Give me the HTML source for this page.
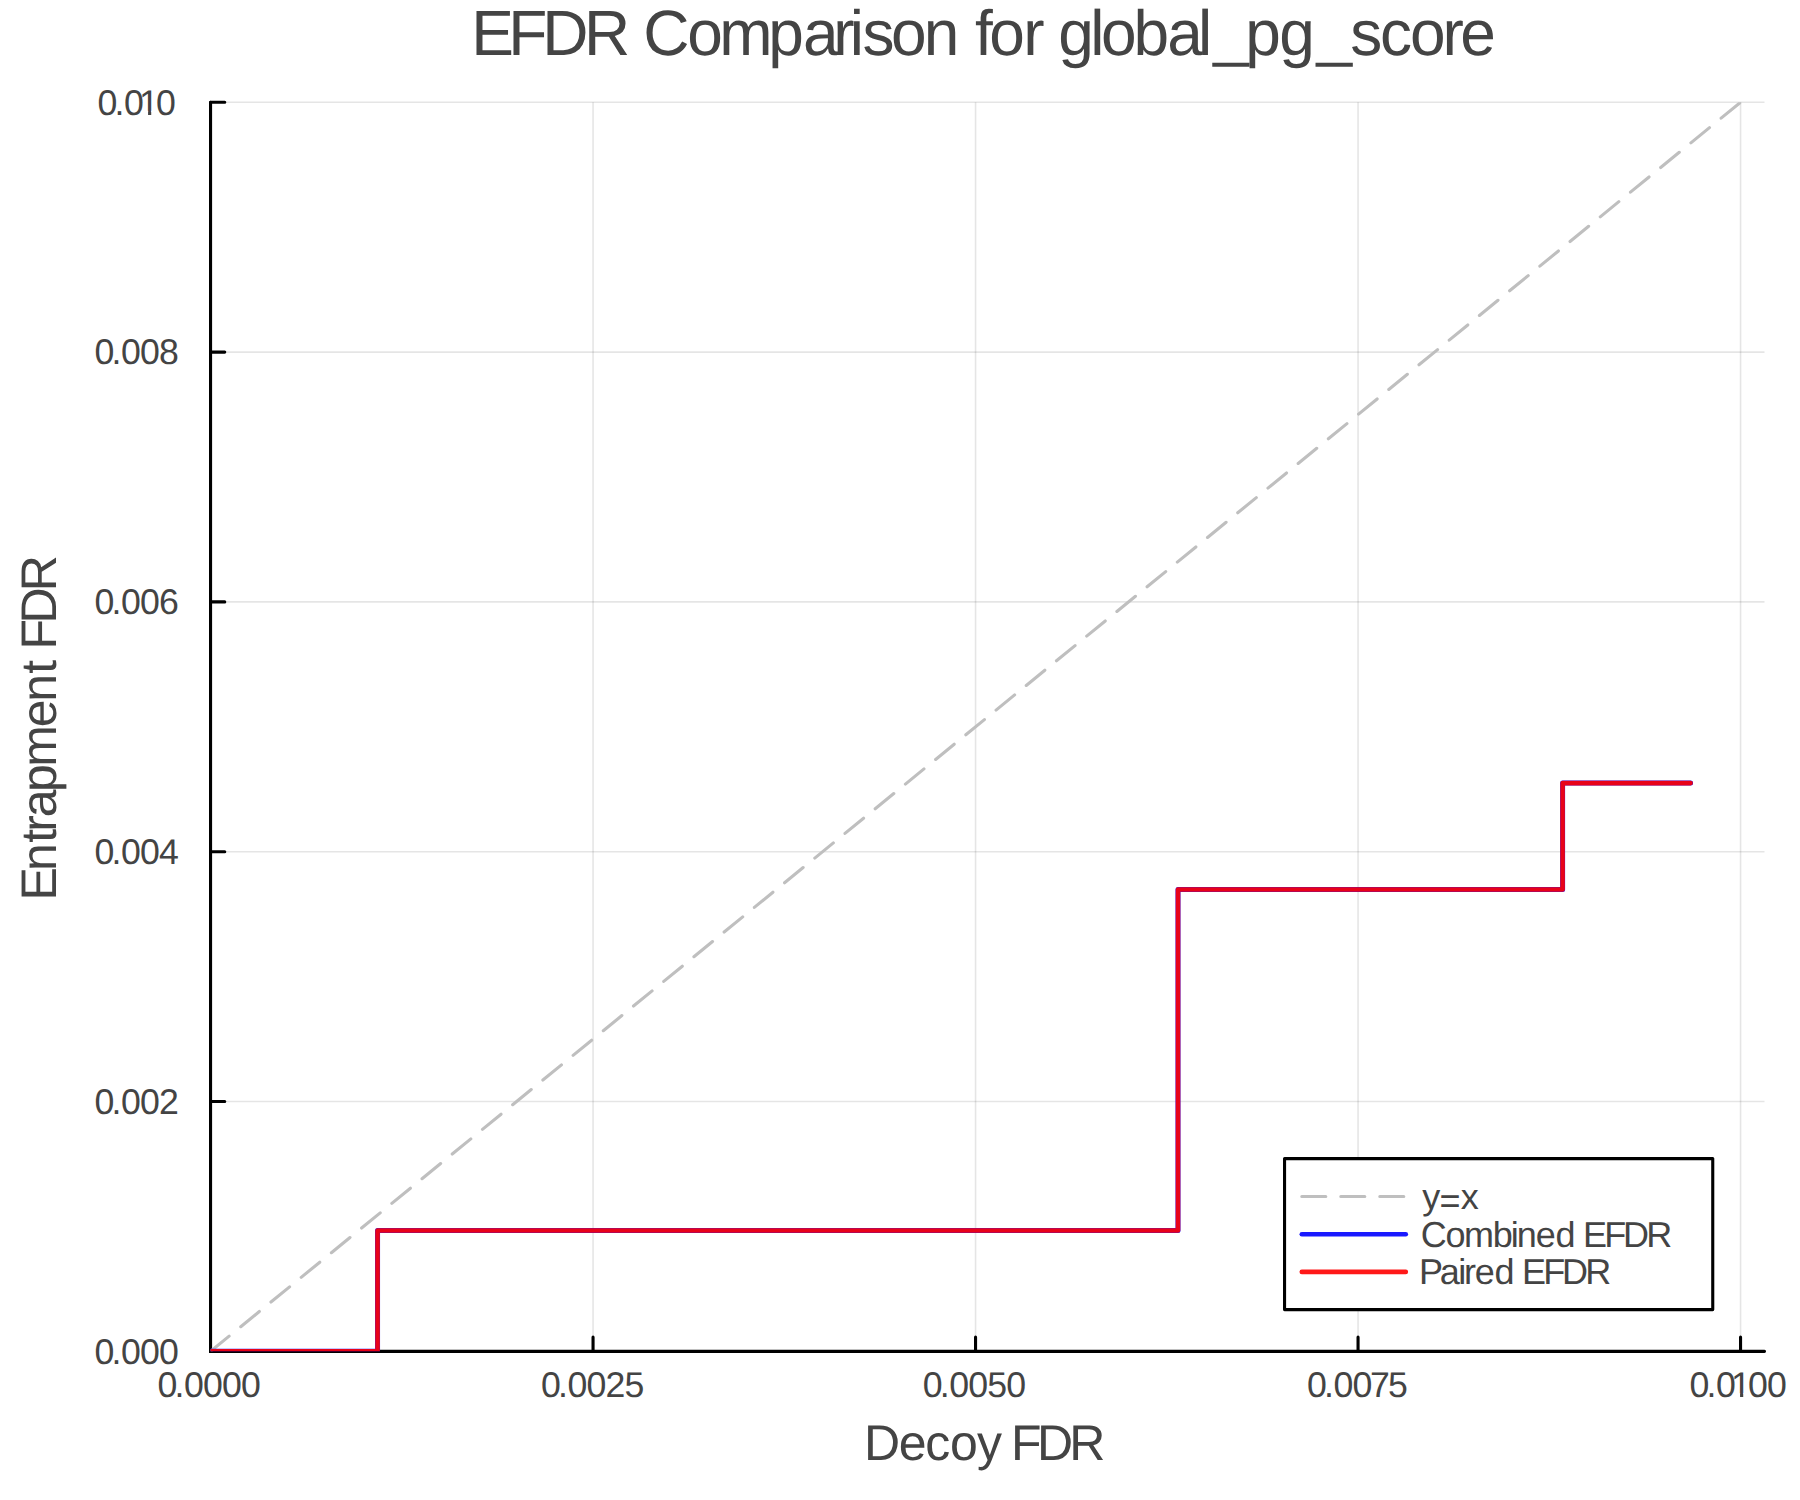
<!DOCTYPE html>
<html><head><meta charset="utf-8"><title>EFDR Comparison for global_pg_score</title>
<style>
html,body{margin:0;padding:0;background:#fff;}
body{width:1800px;height:1500px;overflow:hidden;}
svg{display:block;}
text{font-family:"Liberation Sans",Arial,Helvetica,sans-serif;fill:#444;white-space:pre;text-rendering:geometricPrecision;}
</style></head><body>
<svg width="1800" height="1500" viewBox="0 0 1800 1500">
<rect width="1800" height="1500" fill="#fff"/>
<g stroke="#000" stroke-opacity="0.1" stroke-width="1.6" fill="none">
<path d="M593.05 102.3V1351.35M975.55 102.3V1351.35M1358.05 102.3V1351.35M1740.55 102.3V1351.35"/>
<path d="M210.55 1101.54H1764.5M210.55 851.73H1764.5M210.55 601.92H1764.5M210.55 352.11H1764.5M210.55 102.3H1764.5"/>
</g>
<g stroke="#000" stroke-width="3.1" fill="none" stroke-linecap="round">
<path d="M210.55 102.3V1351.35H1764.5"/>
<path d="M593.05 1351.35V1337.15M975.55 1351.35V1337.15M1358.05 1351.35V1337.15M1740.55 1351.35V1337.15"/>
<path d="M210.55 1101.54H224.75M210.55 851.73H224.75M210.55 601.92H224.75M210.55 352.11H224.75M210.55 102.3H224.75"/>
</g>
<defs><clipPath id="pa"><rect x="210.55" y="102.3" width="1553.95" height="1249.05"/></clipPath></defs>
<g clip-path="url(#pa)" fill="none">
<path d="M210.55 1351.35L1740.55 102.3" stroke="#bfbfbf" stroke-width="3.1" stroke-dasharray="24 15" stroke-linecap="round"/>
<path d="M210.55 1351.35H377.55V1230.5H1178V889.5H1562.6V783.1H1690.6" stroke="#0000ff" stroke-opacity="0.9" stroke-width="5" stroke-linejoin="round" stroke-linecap="round"/>
<path d="M210.55 1351.35H377.55V1230.5H1178V889.5H1562.6V783.1H1690.6" stroke="#ff0000" stroke-opacity="0.9" stroke-width="4.6" stroke-linejoin="round" stroke-linecap="round"/>
</g>
<text x="471.15 508.35 542.35 583.95 628.17 643.15 687.31 719.35 768.27 802.88 833.35 849.72 862.62 890.91 923.75 957.34 975.09 989.31 1023.15 1042.46 1058.31 1090.29 1101.11 1133.47 1167.28 1198.09 1213.37 1245.28 1279.31 1316.57 1350.22 1379.88 1410.11 1442.45 1460.28" y="55 55 55 55 55 55 55 55 55 55 55 55 55 55 55 55 55 55 55 55 55 55 55 55 55 55 54.2 55 55 54.2 55 55 55 55 55" font-size="64">EFDR Comparison for global_pg_score</text>
<text x="157.61 174.61 184.11 203.11 222.11 241.11" y="1396.9" font-size="35.7">0.0000</text>
<text x="541.11 558.11 567.61 586.61 605.61 624.61" y="1396.9" font-size="35.7">0.0025</text>
<text x="922.81 939.81 949.31 968.31 987.31 1006.31" y="1396.9" font-size="35.7">0.0050</text>
<text x="1306.91 1323.91 1333.41 1352.41 1370.01 1387.91" y="1396.9" font-size="35.7">0.0075</text>
<clipPath id="c1"><path clip-rule="evenodd" d="M1669.61 1354.06H1838.51V1414.75H1669.61ZM1732.85 1393.15H1740.08V1398.9H1732.85ZM1743.24 1393.15H1750.28V1398.9H1743.24Z"/></clipPath>
<text x="1689.61 1706.61 1716.11 1731.11 1748.11 1767.11" y="1396.9" font-size="35.7" clip-path="url(#c1)">0.0100</text>
<text x="94.61 111.61 121.11 140.11 159.11" y="1363.65" font-size="35.7">0.000</text>
<text x="94.61 111.61 121.11 140.11 159.11" y="1113.84" font-size="35.7">0.002</text>
<text x="94.61 111.61 121.11 140.11 159.11" y="864.03" font-size="35.7">0.004</text>
<text x="94.61 111.61 121.11 140.11 159.11" y="614.22" font-size="35.7">0.006</text>
<text x="94.41 111.41 120.91 139.91 158.91" y="364.41" font-size="35.7">0.008</text>
<clipPath id="c2"><path clip-rule="evenodd" d="M77.61 71.76H227.51V132.45H77.61ZM140.85 110.85H148.08V116.6H140.85ZM151.24 110.85H158.28V116.6H151.24Z"/></clipPath>
<text x="97.61 114.61 124.11 139.11 156.11" y="114.6" font-size="35.7" clip-path="url(#c2)">0.010</text>
<text x="864 898.68 925.18 950 976.98 999.98 1011.1 1036.9 1069.2" y="1459.9" font-size="50">Decoy FDR</text>
<g transform="translate(56 727.3) rotate(-90)">
<text x="-173.2 -143.62 -115.46 -104.42 -90.02 -64.82 -39.52 0.18 25.48 53.54 65.43 77.9 103.7 136" y="0" font-size="50">Entrapment FDR</text>
</g>
<rect x="1284.55" y="1158.6" width="428.2" height="151" fill="#fff" stroke="#000" stroke-width="3.1" stroke-linejoin="round"/>
<path d="M1301.8 1196.5H1405.8" stroke="#bfbfbf" stroke-width="3.1" stroke-dasharray="24 15" stroke-linecap="round" fill="none"/>
<path d="M1301.8 1234.2H1405.8" stroke="#0000ff" stroke-opacity="0.9" stroke-width="4.6" stroke-linecap="round" fill="none"/>
<path d="M1301.8 1271.9H1405.8" stroke="#ff0000" stroke-opacity="0.9" stroke-width="4.6" stroke-linecap="round" fill="none"/>
<text x="1422.21 1439.44 1460.8" y="1208.9 1212.7 1208.9" font-size="36">y=x</text>
<text x="1420.87 1445.49 1463.91 1492.68 1510.79 1516.81 1535.77 1555.49 1573.51 1583.05 1604.25 1623.05 1646.15" y="1246.6" font-size="36">Combined EFDR</text>
<text x="1419.05 1439.77 1458.19 1463.91 1474.77 1494.49 1512.51 1522.05 1543.25 1562.05 1585.15" y="1283.8" font-size="36">Paired EFDR</text>
</svg>
</body></html>
